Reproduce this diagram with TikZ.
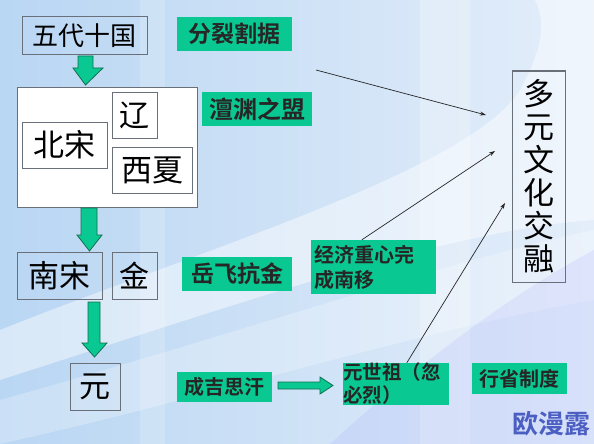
\documentclass[tikz,border=0pt]{standalone}
\usepackage{fontspec}
\setmainfont{Noto Sans CJK SC}
\newfontfamily\cjk{Noto Sans CJK SC}
\newfontfamily\cjkb{Noto Sans CJK SC Bold}
\usetikzlibrary{arrows.meta,calc}
\definecolor{bgblue}{RGB}{185,214,243}
\definecolor{bglight}{RGB}{228,238,250}
\definecolor{tealg}{RGB}{10,200,145}
\definecolor{tealdark}{RGB}{20,110,80}
\definecolor{boxgray}{RGB}{105,112,122}
\definecolor{wmblue}{RGB}{75,95,195}
\tikzset{
  x=1pt, y=-1pt,
  era/.style={draw=boxgray, line width=1pt, inner sep=0pt, font=\cjk\fontsize{30}{32}\selectfont, text=black},
  whitebox/.style={era, fill=white},
  greenlbl/.style={fill=tealg, inner sep=0pt, font=\cjkb\fontsize{20}{25}\selectfont, text=black!85},
  blockarrow/.style={fill=tealg, draw=tealdark, line width=0.8pt, line join=miter},
  thin/.style={draw=black!85, line width=0.7pt, -{Stealth[length=6pt,width=4pt]}}
}
\begin{document}
\begin{tikzpicture}
\useasboundingbox (0,0) rectangle (594,444);
% background
\shade[left color=bgblue, right color=bglight] (0,0) rectangle (594,444);
\fill[white, opacity=0.45] (0,330) .. controls (200,250) and (470,170) .. (520,90) .. controls (545,45) and (545,20) .. (535,0) -- (594,0) -- (594,220) .. controls (450,230) and (250,300) .. (0,380) -- cycle;
\fill[white, opacity=0.25] (0,400) .. controls (250,330) and (450,260) .. (594,230) -- (594,300) .. controls (420,330) and (200,400) .. (0,444) -- cycle;
\fill[white, opacity=0.18] (140,0) rectangle (165,444);
\fill[white, opacity=0.25] (420,0) rectangle (470,444);
\fill[blue!40, opacity=0.15] (594,250) .. controls (500,300) and (400,380) .. (330,444) -- (594,444) -- cycle;

% era boxes
\node[era, minimum width=125pt, minimum height=38pt, font=\cjk\fontsize{26}{28}\selectfont] (wudai) at (84.5,36) {五代十国};
\node[whitebox, minimum width=180pt, minimum height=120pt] (big) at (107,147) {};
\node[whitebox, minimum width=45pt, minimum height=46pt] (liao) at (134.5,115) {辽};
\node[whitebox, minimum width=85pt, minimum height=46pt, font=\cjk\fontsize{31}{33}\selectfont] (beisong) at (64.5,145) {北宋};
\node[whitebox, minimum width=80pt, minimum height=46pt, font=\cjk\fontsize{31}{33}\selectfont] (xixia) at (152,170) {西夏};
\node[era, minimum width=85pt, minimum height=47pt, font=\cjk\fontsize{31}{33}\selectfont] (nansong) at (59.5,275.5) {南宋};
\node[era, minimum width=45pt, minimum height=47pt] (jin) at (134.5,275.5) {金};
\node[era, minimum width=50pt, minimum height=47pt, font=\cjk\fontsize{31}{33}\selectfont] (yuan) at (95,386.5) {元};
\node[era, minimum width=53pt, minimum height=211pt, font=\cjk\fontsize{31}{33}\selectfont, align=center] (duoyuan) at (538.5,176.5) {多\\元\\文\\化\\交\\融};

% green labels
\node[greenlbl, minimum width=115pt, minimum height=34pt, font=\cjkb\fontsize{23}{25}\selectfont] (fenlie) at (234.5,34) {分裂割据};
\node[greenlbl, minimum width=110pt, minimum height=34pt, font=\cjkb\fontsize{24}{25}\selectfont] (chanyuan) at (257,109) {澶渊之盟};
\node[greenlbl, minimum width=110pt, minimum height=34pt, font=\cjkb\fontsize{23}{25}\selectfont] (yuefei) at (237,274) {岳飞抗金};
\node[greenlbl, minimum width=95pt, minimum height=30pt, font=\cjkb\fontsize{20}{25}\selectfont] (chengji) at (224.5,387) {成吉思汗};
\node[greenlbl, minimum width=125pt, minimum height=54pt, text width=119pt, align=left] (jingji) at (373.5,267) {经济重心完\\成南移};
\node[greenlbl, minimum width=106pt, minimum height=42pt, text width=106pt, align=left, font=\cjkb\fontsize{19.5}{23}\selectfont] (yuanshizu) at (396,384) {元世祖（忽\\必烈）};
\node[greenlbl, minimum width=95pt, minimum height=31pt] (xingsheng) at (519.5,378.5) {行省制度};

% block arrows
\draw[blockarrow] (78,56) -- (93,56) -- (93,68) -- (103,68) -- (85.5,85) -- (73,68) -- (78,68) -- cycle;
\draw[blockarrow] (81,208) -- (97,208) -- (97,235) -- (102,235) -- (89.5,251) -- (77,235) -- (81,235) -- cycle;
\draw[blockarrow] (88,302) -- (100,302) -- (100,343) -- (107,343) -- (94.5,357) -- (82,343) -- (88,343) -- cycle;
\draw[blockarrow] (278,382) -- (320,382) -- (320,377) -- (333,385.5) -- (320,394) -- (320,389) -- (278,389) -- cycle;

% thin arrows
\coordinate (fromtop) at (316,70);
\coordinate (to1) at (486,115);
\coordinate (to2) at (495,151);
\coordinate (to3) at (505,203);
\draw[thin] (fromtop) -- (to1);
\draw[thin] ($(jingji.north west)+(51,0)$) -- (to2);
\draw[thin] ($(yuanshizu.north west)+(64,0)$) -- (to3);

% watermark
\node[font=\cjkb\fontsize{26}{28}\selectfont, text=wmblue, inner sep=0pt] (wm) at (551,424) {欧漫露};
\end{tikzpicture}
\end{document}
